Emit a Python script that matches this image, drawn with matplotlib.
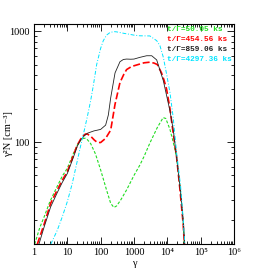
import math

import matplotlib
matplotlib.use("Agg")
import matplotlib.pyplot as plt
import matplotlib.ticker as ticker

# electron spectra: gamma vs gamma^2 N  [cm^-3]
g_green = [1.05, 1.5, 2, 3, 5, 7, 10, 15, 20, 25, 30, 35, 40, 50, 70, 100, 150, 200, 250,
           300, 400, 600, 1000, 1500, 2000, 3000, 5000, 7500, 9000, 12000, 15000, 19000,
           25000, 30000, 33000]
v_green = [12, 17, 21, 29, 40, 49, 58, 78, 94, 104, 108, 108, 105, 97, 78, 56, 37, 28, 25.7,
           26.5, 30, 37, 50, 62, 74, 98, 135, 166, 163, 130, 100, 73,
           36, 19, 11]

g_red = [1.26, 1.5, 2, 3.16, 5, 7, 10, 15, 20, 25, 30, 35, 40, 50, 65, 80, 100, 141, 200,
         270, 380, 500, 600, 800, 1000, 1500, 2000, 3000, 4000, 5000, 6700, 8000, 9500,
         12000, 15000, 19000, 24000, 30000, 33000]
v_red = [12, 14, 18, 28, 37, 45, 54, 75, 94, 106, 114, 118, 118, 113, 104, 99, 99, 108, 128,
         219, 344, 410, 450, 475, 487, 505, 518, 525, 515, 500, 420, 360, 300,
         200, 120, 73, 37, 18, 11]

g_black = [1.41, 2, 3.16, 5, 7, 10, 15, 20, 25, 31.6, 40, 63, 80, 100, 141, 170, 200, 270,
           380, 480, 600, 800, 1000, 1500, 2400, 3400, 4800, 7600, 12000, 15000, 19000,
           25000, 30000, 34000]
v_black = [12, 17, 26, 35, 43, 52, 72, 92, 104, 113, 120, 126, 128, 130, 142, 175, 250, 420,
           530, 555, 560, 558, 560, 580, 600, 600, 550, 357, 191, 130, 73,
           35, 19, 11]

g_cyan = [3.2, 5, 7, 10, 14, 20, 25, 31.6, 40, 50, 60, 76, 100, 120, 150, 191, 250, 300,
          500, 760, 1000, 1500, 3000, 4800, 6000, 7600, 9500, 12000, 15000, 19000, 25000,
          30000, 34000]
v_cyan = [12, 16, 21, 29, 42, 68, 92, 124, 170, 235, 320, 500, 700, 820, 920, 972, 990, 985,
          955, 935, 920, 908, 905, 820, 740, 580, 410, 280, 166, 80, 40,
          20, 11]

labels = ["t/\u0393=50.05 ks", "t/\u0393=454.56 ks", "t/\u0393=859.06 ks", "t/\u0393=4297.36 ks"]
colors = ["#22dd22", "#ff0000", "#222222", "#00e5ff"]
x_ticks = [1, 10, 100, 1000, 1e4, 1e5, 1e6]
x_ticklabels = ["1", "10", "100", "1000", "10\u2074", "10\u2075", "10\u2076"]

plt.rcParams['font.family'] = ['Liberation Serif', 'DejaVu Serif']
plt.rcParams['font.size'] = 7.5

fig = plt.figure(figsize=(2.74, 2.74), dpi=100)
ax = fig.add_axes([0.124, 0.109, 0.730, 0.803])

ax.plot(g_green, v_green, color=colors[0], lw=0.8, dashes=(2.6, 1.6))
ax.plot(g_red, v_red, color=colors[1], lw=1.2, dashes=(4.2, 1.7))
ax.plot(g_black, v_black, color=colors[2], lw=0.6)
ax.plot(g_cyan, v_cyan, color=colors[3], lw=0.7, dashes=(4, 1.8, 1, 1.8))

ax.set_xscale('log')
ax.set_yscale('log')
ax.set_xlim(1, 1e6)
ax.set_ylim(12, 1157)

ax.set_xticks(x_ticks)
ax.set_xticklabels(x_ticklabels)
ax.yaxis.set_major_locator(ticker.FixedLocator([100, 1000]))
ax.yaxis.set_major_formatter(ticker.FuncFormatter(lambda y, pos: f"{y:g}"))
ax.xaxis.set_minor_locator(ticker.LogLocator(base=10, subs=range(2, 10), numticks=10))
ax.yaxis.set_minor_locator(ticker.LogLocator(base=10, subs=range(2, 10), numticks=10))
ax.yaxis.set_minor_formatter(ticker.NullFormatter())
ax.xaxis.set_minor_formatter(ticker.NullFormatter())

ax.tick_params(which='both', direction='in', top=True, right=True, width=0.6)
ax.tick_params(which='major', length=5, pad=3)
ax.tick_params(which='minor', length=2.5)
for s in ax.spines.values():
    s.set_linewidth(0.8)

ax.set_xlabel("\u03b3", labelpad=1)
ax.set_ylabel("\u03b3\u00b2N [cm\u207b\u00b3]")
ax.yaxis.set_label_coords(-0.105, 0.5)

for i, (lab, c) in enumerate(zip(labels, colors)):
    ax.text(0.665, 0.977 - i * 0.046, lab, color=c, transform=ax.transAxes,
            ha='left', va='center', fontsize=5.6, fontweight='bold',
            family=['Liberation Mono', 'DejaVu Sans Mono'])

fig.savefig("out.png", dpi=100)
